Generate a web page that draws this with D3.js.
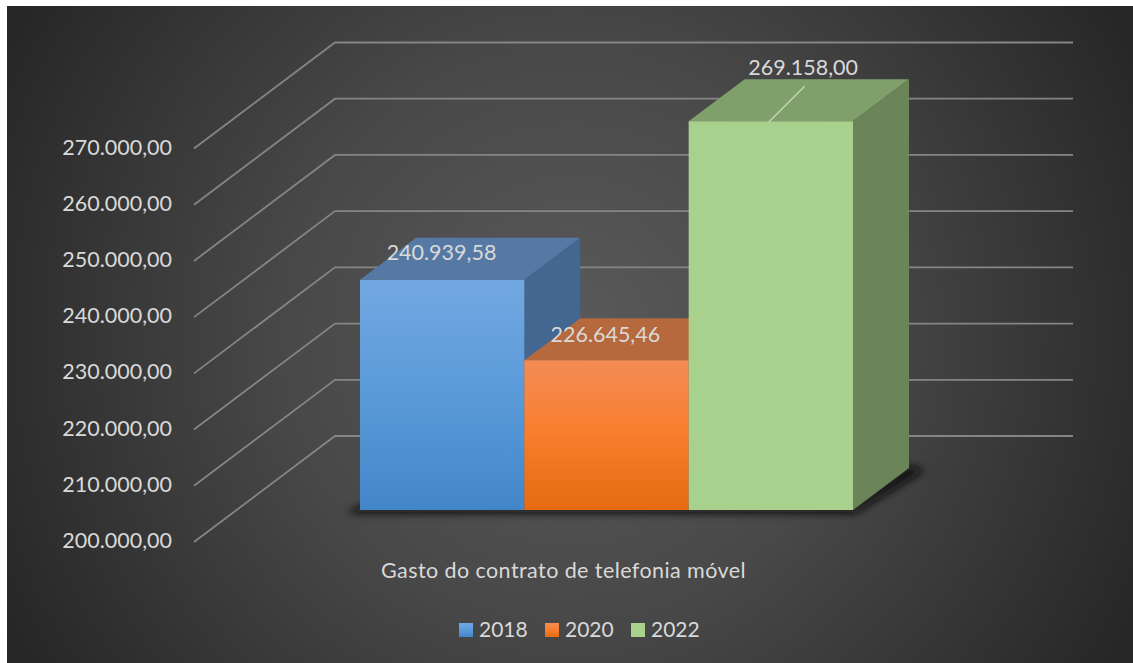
<!DOCTYPE html>
<html><head><meta charset="utf-8">
<script src="https://cdn.jsdelivr.net/npm/d3@7"></script>
<style>html,body{margin:0;padding:0;background:#fff}svg{display:block}text{font-family:Lato,"Open Sans",sans-serif;fill:#d9d9d9}</style>
</head><body><div id="chart"></div>
<script>
const years = ["2018","2020","2022"];
const values = [240939.58,226645.46,269158.00];
const valueLabels = ["240.939,58","226.645,46","269.158,00"];
const tickValues = [200000,210000,220000,230000,240000,250000,260000,270000];
const tickLabels = ["200.000,00","210.000,00","220.000,00","230.000,00","240.000,00","250.000,00","260.000,00","270.000,00"];
const axisTitle = "Gasto do contrato de telefonia móvel";
const frontColors = [["#72a8e2","#5a9ad9","#4386c8"],["#f48c55","#f97e2c","#e56a12"],["#a9d18e","#a9d18e","#a9d18e"]];
const topColors = ["#5579a4","#b5693c","#80a06b"];
const sideColors = ["#436790","#8f5228","#6b8559"];

const W=1133,H=663;
const svg=d3.select("#chart").append("svg").attr("width",W).attr("height",H);
const defs=svg.append("defs");
const bg=defs.append("radialGradient").attr("id","bg").attr("gradientUnits","userSpaceOnUse")
  .attr("cx",570).attr("cy",334).attr("r",640);
[[0,"#5a5a5a"],[0.45,"#484848"],[1,"#262626"]].forEach(d=>bg.append("stop").attr("offset",d[0]).attr("stop-color",d[1]));
frontColors.forEach((c,i)=>{
  const g=defs.append("linearGradient").attr("id","front"+i).attr("x1",0).attr("y1",0).attr("x2",0).attr("y2",1);
  c.forEach((col,j)=>g.append("stop").attr("offset",j/2).attr("stop-color",col));
});
defs.append("filter").attr("id","blur").attr("x","-20%").attr("y","-50%").attr("width","140%").attr("height","200%")
  .append("feGaussianBlur").attr("stdDeviation",4);

svg.append("rect").attr("x",7).attr("y",6).attr("width",W-7).attr("height",H-6).attr("fill","url(#bg)");

const y=d3.scaleLinear().domain([200000,270000]).range([510,116.5]);
const x=d3.scaleBand().domain(years).range([360,853]).padding(0);
const DX=56,DY=42;          // bar depth
const wallFront=194,wallBack=335,wallRight=1073,frontShift=32,backShift=-74;

const grid=svg.append("g").attr("fill","none").attr("stroke","#858585").attr("stroke-width",1.8);
grid.selectAll("path").data(tickValues).join("path")
  .attr("d",v=>d3.line()([[wallFront,y(v)+frontShift],[wallBack,y(v)+backShift],[wallRight,y(v)+backShift]]));

// floor shadow
const x0=x.range()[0],x1=x.range()[1],yb=y(200000);
svg.append("path").attr("filter","url(#blur)").attr("fill","#111")
  .attr("d",d3.line()([[x0-14,yb+3],[x1+2,yb+3],[x1+DX+16,yb-DY+2],[x1+DX,yb-DY-2],[x1,yb-4],[x0,yb-4]]));

const bars=svg.append("g").selectAll("g").data(years).join("g");
bars.append("path").attr("fill",(d,i)=>topColors[i])
  .attr("d",(d,i)=>{const a=x(d),b=a+x.bandwidth(),t=y(values[i]);
    return d3.line()([[a,t],[a+DX,t-DY],[b+DX,t-DY],[b,t]])+"Z";});
bars.append("path").attr("fill",(d,i)=>sideColors[i])
  .attr("d",(d,i)=>{const b=x(d)+x.bandwidth(),t=y(values[i]);
    return d3.line()([[b,t],[b+DX,t-DY],[b+DX,yb-DY],[b,yb]])+"Z";});
bars.append("rect").attr("x",d=>x(d)).attr("width",x.bandwidth())
  .attr("y",(d,i)=>y(values[i])).attr("height",(d,i)=>yb-y(values[i]))
  .attr("fill",(d,i)=>`url(#front${i})`);

// leader line of the 2022 label
svg.append("path").attr("stroke","#c5d6b8").attr("stroke-width",1.3).attr("fill","none")
  .attr("d",d3.line()([[x("2022")+80,y(values[2])+1],[x("2022")+116,y(values[2])-35]]));

const fs=21.5;
svg.append("g").selectAll("text").data(tickLabels).join("text")
  .attr("x",172).attr("y",(d,i)=>y(tickValues[i])+38).attr("text-anchor","end")
  .attr("font-size",fs).text(d=>d);

const labelDx=[81.5,81,114.5], labelDy=[-19.5,-18.5,-46.5];
svg.append("g").selectAll("text").data(valueLabels).join("text")
  .attr("x",(d,i)=>x(years[i])+labelDx[i]).attr("y",(d,i)=>y(values[i])+labelDy[i])
  .attr("text-anchor","middle").attr("font-size",fs).text(d=>d);

svg.append("text").attr("x",563.5).attr("y",578).attr("text-anchor","middle").attr("font-size",fs)
  .attr("letter-spacing",0.42).text(axisTitle);

const lx=d3.scalePoint().domain(years).range([459,631]);
const leg=svg.append("g").selectAll("g").data(years).join("g").attr("transform",d=>`translate(${lx(d)},622)`);
leg.append("rect").attr("y",1).attr("width",14).attr("height",14).attr("fill",(d,i)=>`url(#front${i})`);
leg.append("text").attr("x",20).attr("y",14.5).attr("font-size",21).text(d=>d);
</script></body></html>
